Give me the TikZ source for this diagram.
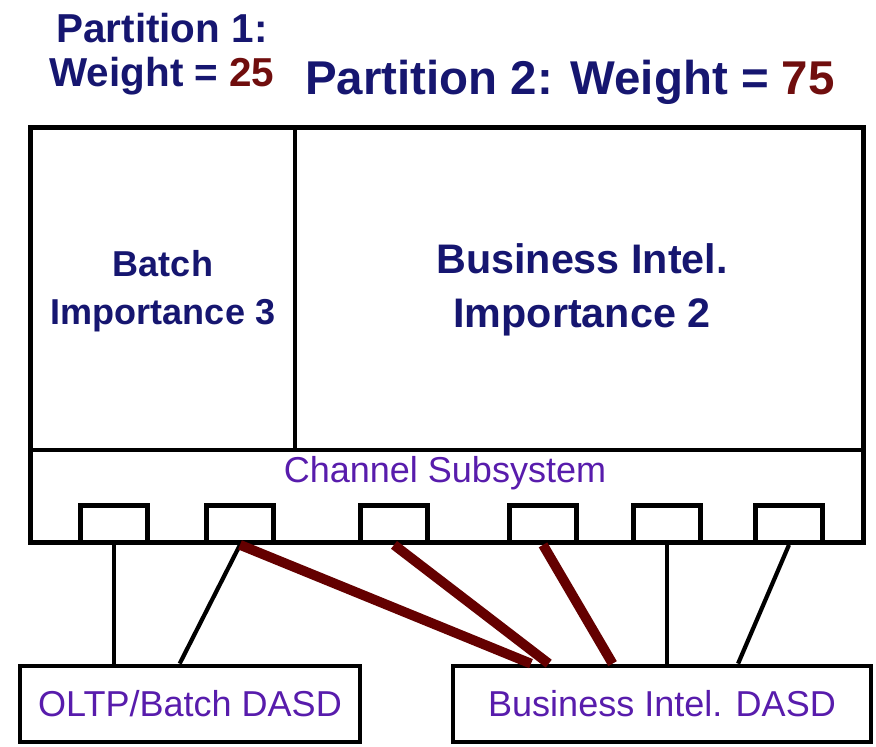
\documentclass[tikz,border=0pt]{standalone}
\usepackage{fontspec}
\setmainfont{Liberation Sans}
\usetikzlibrary{calc}
\definecolor{partnavy}{RGB}{22,22,112}
\definecolor{weightred}{RGB}{112,14,14}
\definecolor{chanviolet}{RGB}{88,28,172}
\definecolor{bired}{RGB}{100,0,0}

\begin{document}
\begin{tikzpicture}[x=0.02cm, y=-0.02cm,
	frame/.style={draw, line width=2.7pt, inner sep=0pt},
	port/.style={frame, minimum width=1.34cm, minimum height=0.74cm},
	dasd/.style={frame, minimum height=1.52cm, text=chanviolet, font=\fontsize{20.5}{24}\selectfont},
	heading/.style={text=partnavy, font=\bfseries\fontsize{23}{27}\selectfont, inner sep=0pt},
	cable/.style={line width=2.4pt},
	bicable/.style={line width=5.6pt, draw=bired}]
	\useasboundingbox (0,0) rectangle (876,747);
	% Headings:
	\node[heading] (p1) at (162,28) {Partition 1:};
	\node[heading] (w1) at (162,76) {Weight = \textcolor{weightred}{25}};
	\node[heading, font=\bfseries\fontsize{27}{31}\selectfont] (p2) at (570,82) {Partition 2: Weight = \textcolor{weightred}{75}};
	% Processor box and partitions:
	\node[frame, minimum width=16.66cm, minimum height=8.3cm] (cec) at (447,335) {};
	\draw[line width=2.7pt] (cec.west |- 0,450) -- (cec.east |- 0,450);
	\draw[line width=2.7pt] (cec.north -| 295,0) -- (295,450);
	\node[heading, align=center, font=\bfseries\fontsize{20.5}{27}\selectfont] (batch) at (163,291) {Batch\\Importance 3};
	\node[heading, align=center, font=\bfseries\fontsize{23.5}{31}\selectfont] (bi) at (582,290) {Business Intel.\\Importance 2};
	\node[text=chanviolet, font=\fontsize{20.5}{24}\selectfont] (css) at (445,473) {Channel Subsystem};
	% Channels:
	\foreach \x [count=\i] in {114,240,394,543,667,789}
		\node[port] (ch\i) at (\x,524) {};
	% DASD:
	\node[dasd, minimum width=6.8cm] (oltp) at (190,704) {OLTP/Batch DASD};
	\node[dasd, minimum width=8.36cm] (bidasd) at (662,704) {Business Intel. DASD};
	% Cables:
	\draw[cable] (ch1.south) -- (ch1.south |- oltp.north);
	\draw[cable] (ch2.south) -- ($(oltp.north west)!0.47!(oltp.north east)$);
	\draw[cable] (ch5.south) -- (ch5.south |- bidasd.north);
	\draw[cable] (ch6.south) -- ($(bidasd.north west)!0.68!(bidasd.north east)$);
	\draw[bicable] (ch2.south) -- ($(bidasd.north west)!0.19!(bidasd.north east)$);
	\draw[bicable] (ch3.south) -- ($(bidasd.north west)!0.232!(bidasd.north east)$);
	\draw[bicable] (ch4.south) -- ($(bidasd.north west)!0.383!(bidasd.north east)$);
\end{tikzpicture}
\end{document}
